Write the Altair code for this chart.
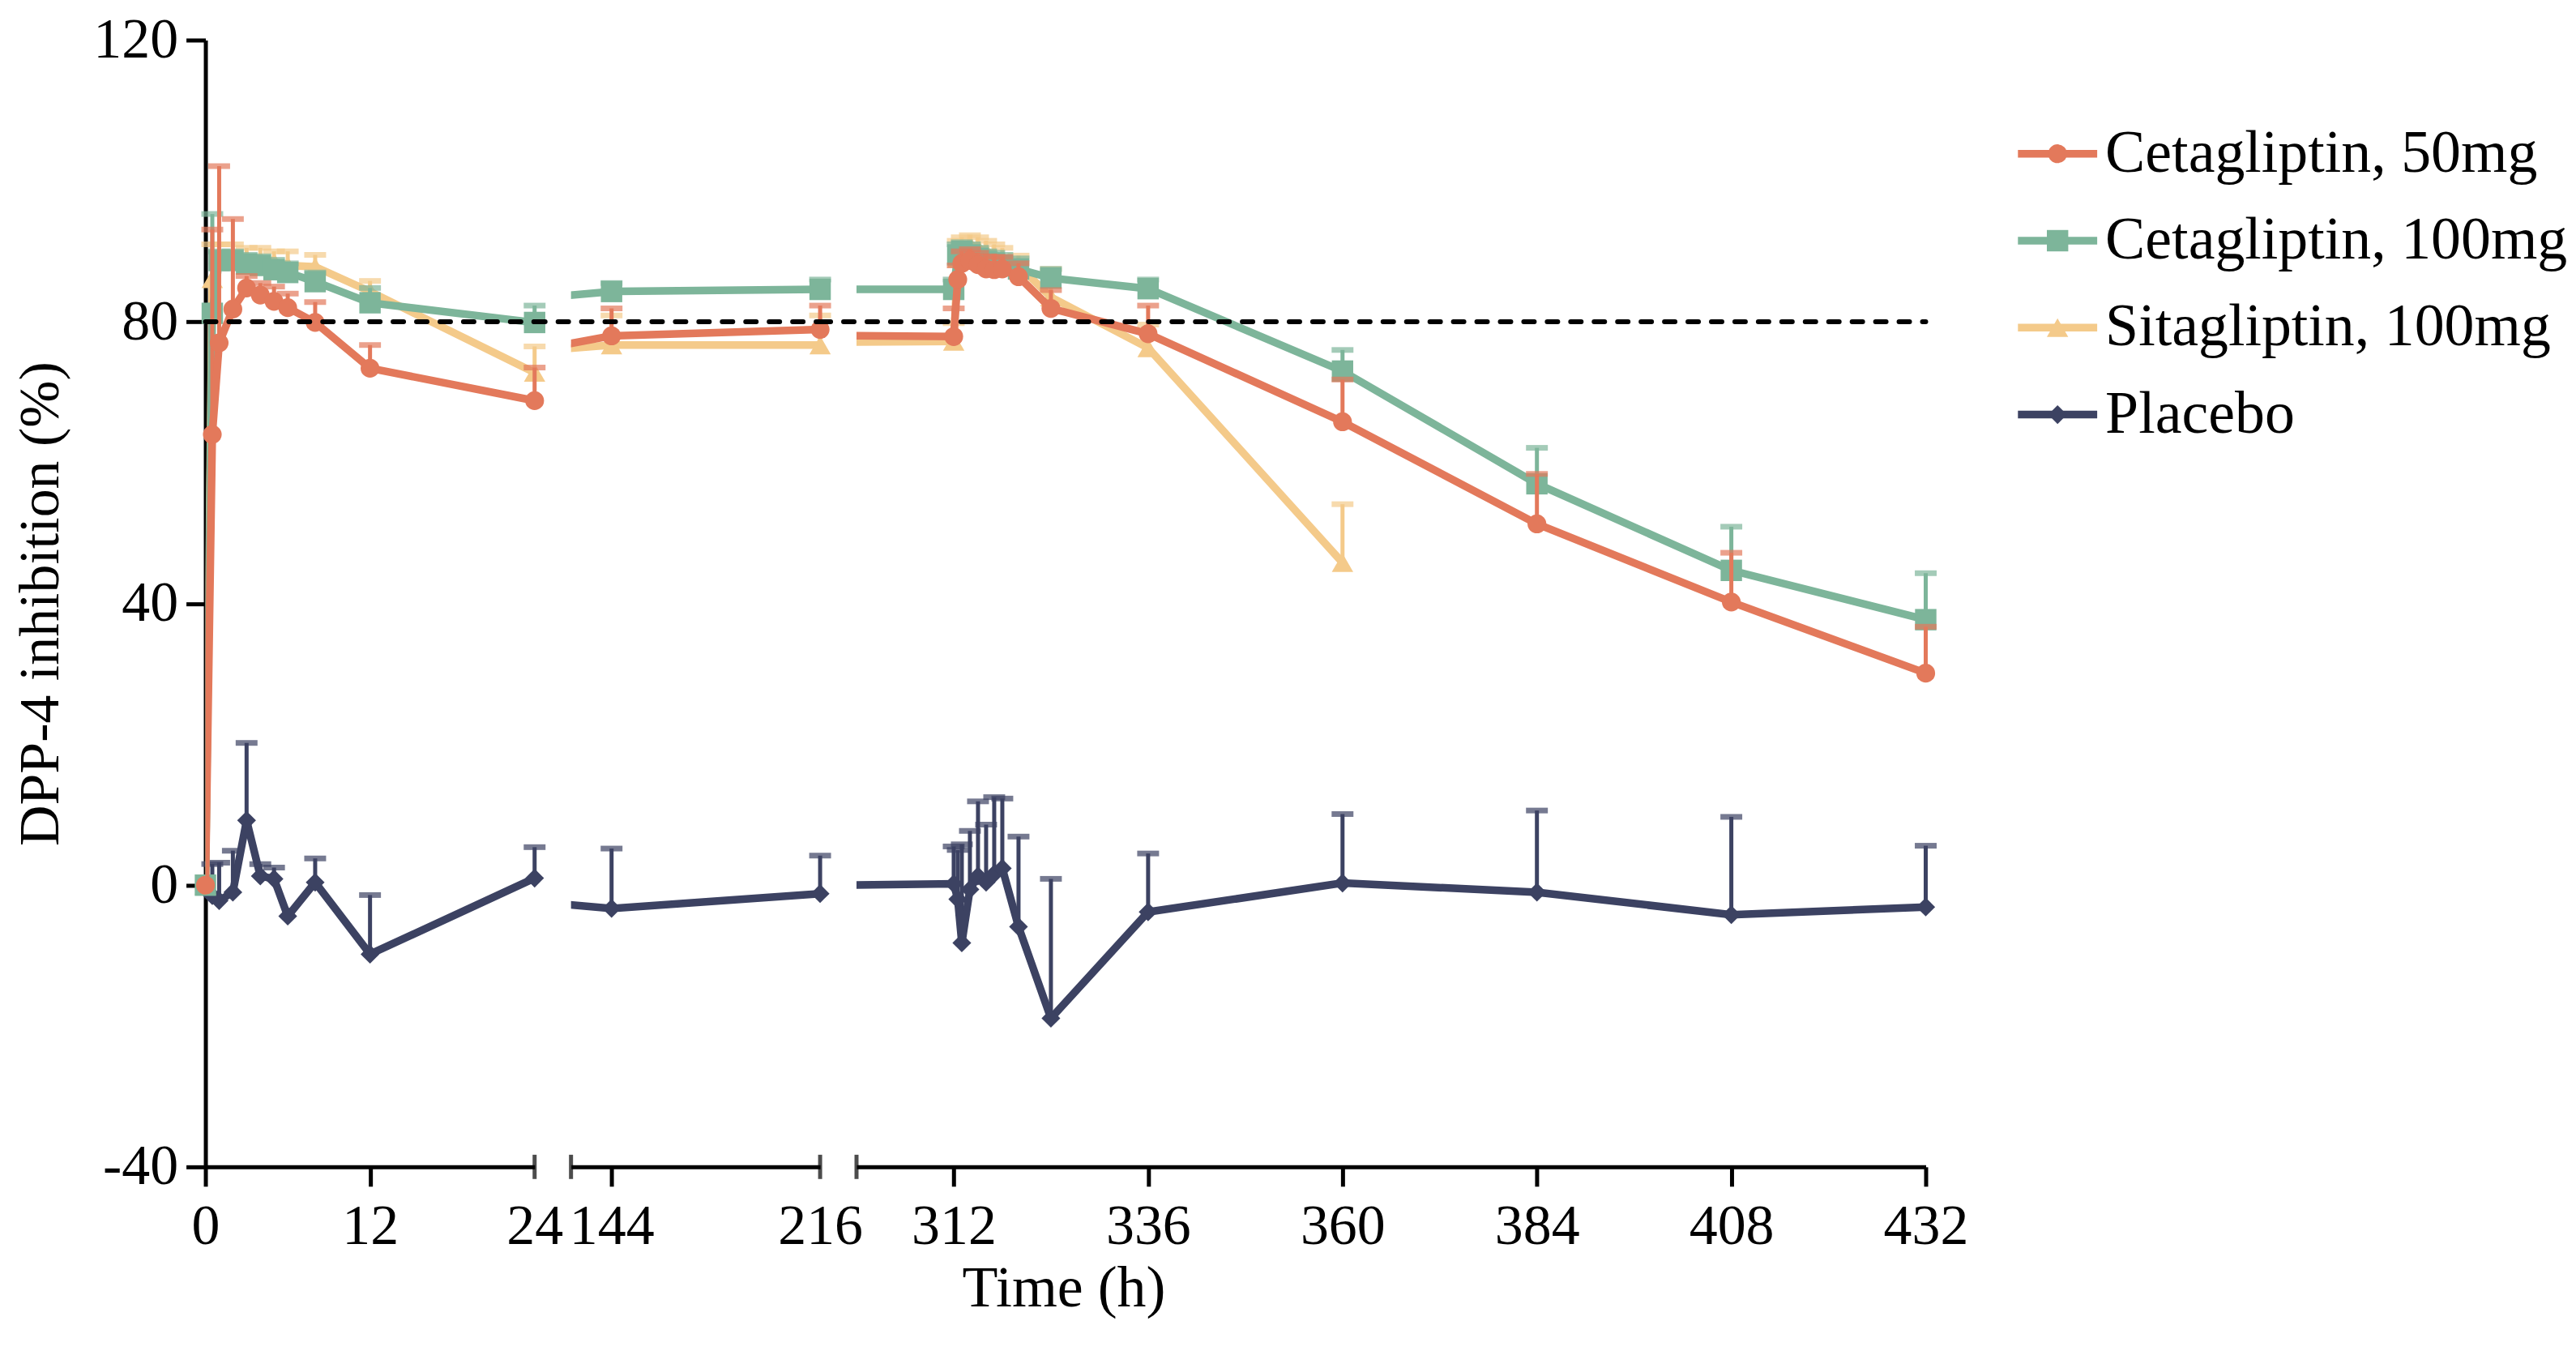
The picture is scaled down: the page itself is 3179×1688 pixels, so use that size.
import altair as alt
import pandas as pd

FONT = "Liberation Serif"

SERIES = ["Cetagliptin, 50mg", "Cetagliptin, 100mg", "Sitagliptin, 100mg", "Placebo"]
COLORS = ["#E3795B", "#7DB59A", "#F4CA8A", "#3C4262"]
SHAPES = ["circle", "square", "triangle-up", "diamond"]
SIZES = [540, 700, 700, 540]
Z_ORDER = ["Placebo", "Sitagliptin, 100mg", "Cetagliptin, 100mg", "Cetagliptin, 50mg"]

TIME = [0, 0.5, 1, 2, 3, 4, 5, 6, 8, 12, 24, 144, 216,
        312, 312.5, 313, 314, 315, 316, 317, 318, 320, 324, 336, 360, 384, 408, 432]

CET50 = [0, 64.0, 77.0, 81.8, 84.8, 83.8, 82.9, 82.0, 79.9, 73.4, 68.8, 78.0, 78.9,
         77.9, 86.0, 88.3, 88.7, 88.1, 87.5, 87.4, 87.5, 86.4, 81.9, 78.3, 65.8, 51.3, 40.2, 30.1]
CET50_UP = [None, 93.1, 102.1, 94.6, 86.5, 85.5, 85.0, 84.0, 82.8, 76.7, 73.5, 81.9, 82.3,
            81.9, 88.0, 90.0, 90.3, 89.8, 89.3, 89.2, 89.2, 88.3, 84.5, 82.3, 71.8, 58.4, 47.2, 36.7]

CET100 = [0, 81.2, 88.7, 88.7, 88.2, 88.0, 87.4, 87.0, 85.7, 82.7, 79.9, 84.3, 84.6,
          84.6, 89.5, 90.0, 89.5, 89.0, 88.5, 88.3, 88.0, 87.5, 86.2, 84.7, 73.0, 57.0, 44.7, 37.7]
CET100_UP = [None, 95.3, 90.0, 90.0, 89.5, 89.3, 88.8, 88.3, 87.0, 84.8, 82.3, 85.5, 86.0,
             86.0, 91.0, 91.3, 91.0, 90.5, 90.0, 89.8, 89.5, 89.0, 87.5, 86.0, 76.0, 62.1, 50.9, 44.3]

SITA = [0, 86.1, 89.5, 89.5, 89.0, 88.8, 88.5, 88.0, 87.8, 84.3, 72.8, 76.7, 76.7,
        77.2, 89.0, 90.5, 91.0, 90.5, 90.0, 89.5, 89.0, 88.0, 83.5, 76.3, 45.8, None, None, None]
SITA_UP = [None, 91.0, 91.0, 91.0, 90.5, 90.5, 90.0, 90.0, 89.5, 85.8, 76.5, 80.9, 80.9,
           79.8, 91.5, 92.0, 92.3, 92.0, 91.5, 91.0, 90.5, 89.4, 87.5, 79.6, 54.1, None, None, None]

PLACEBO = [0, -1.5, -2.2, -1.0, 9.2, 1.3, 0.9, -4.4, 0.4, -9.8, 1.0, -3.3, -1.2,
           0.2, -2.0, -8.2, -0.6, 1.3, 0.4, 1.6, 2.4, -5.9, -18.9, -3.8, 0.3, -1.0, -4.2, -3.1]
PLACEBO_UP = [None, 3.0, 3.2, 4.9, 20.2, 3.0, 2.5, None, 3.8, -1.4, 5.4, 5.2, 4.2,
              5.5, 5.0, 5.8, 7.7, 11.9, 8.6, 12.5, 12.3, 6.9, 0.9, 4.5, 10.1, 10.6, 9.7, 5.6]

VALUES = [CET50, CET100, SITA, PLACEBO]
UPPERS = [CET50_UP, CET100_UP, SITA_UP, PLACEBO_UP]

# broken x axis segments
SEG_LO = [0, 130, 300]
SEG_HI = [24, 216, 432]
SEG_W = [407, 308, 1322]
SEG_TICKS = [[0, 12, 24], [144, 216], [312, 336, 360, 384, 408, 432]]
SEG_HIDE_TICK = [24, 216, None]
SEG_BREAKS = [[24], [130, 216], [300]]
Y_TICKS = [-40, 0, 40, 80, 120]
Y_DOMAIN = [-40, 120]
THRESHOLD = 80
PLOT_H = 1393
GAP = 45

rows = []
for name, vals, ups in zip(SERIES, VALUES, UPPERS):
    for t, v, u in zip(TIME, vals, ups):
        rows.append({"series": name, "t": t, "v": v, "up": u})
df = pd.DataFrame(rows)

ys = alt.Scale(domain=Y_DOMAIN, nice=False, zero=False)


def x_axis(k):
    kw = dict(values=SEG_TICKS[k], labelExpr="'' + datum.value", labelFont=FONT,
              labelFontSize=70, labelColor="black", labelPadding=16, labelFlush=False,
              labelOverlap=False, tickSize=24, tickWidth=5, tickColor="black",
              domainWidth=5, domainColor="black", grid=False, title=None)
    if SEG_HIDE_TICK[k] is not None:
        kw["tickOpacity"] = {"condition": {"test": f"datum.value == {SEG_HIDE_TICK[k]}", "value": 0},
                             "value": 1}
    if k == 1:
        kw.update(title="Time (h)", titleX=609, titleFont=FONT, titleFontSize=72,
                  titleFontWeight="normal", titleColor="black", titlePadding=6)
    return alt.Axis(**kw)


def y_axis(k):
    if k != 0:
        return None
    return alt.Axis(values=Y_TICKS, labelExpr="'' + datum.value", labelFont=FONT,
                    labelFontSize=70, labelColor="black", labelPadding=10, labelFlush=False,
                    tickSize=24, tickWidth=5, tickColor="black", domainWidth=5,
                    domainColor="black", grid=False, title="DPP-4 inhibition (%)",
                    titleFont=FONT, titleFontSize=70, titleFontWeight="normal",
                    titleColor="black", titlePadding=28)


def panel(k):
    lo, hi = SEG_LO[k], SEG_HI[k]
    xs = alt.Scale(domain=[lo, hi], nice=False, zero=False)
    xa = x_axis(k)
    ya = y_axis(k)
    X = alt.X("t:Q", scale=xs, axis=xa)

    def Y(f):
        return alt.Y(f"{f}:Q", scale=ys, axis=ya)

    layers = []
    for name in Z_ORDER:
        i = SERIES.index(name)
        c = COLORS[i]
        sub = df[df.series == name].dropna(subset=["v"])
        inp = sub[(sub.t >= lo) & (sub.t <= hi)]
        eb = inp.dropna(subset=["up"])
        layers.append(alt.Chart(eb).mark_rule(strokeWidth=5, color=c).encode(
            x=X, y=Y("v"), y2="up:Q"))
        layers.append(alt.Chart(eb).mark_tick(orient="horizontal", size=27, thickness=7,
                                              color=c).encode(x=X, y=Y("up")))
        layers.append(alt.Chart(sub).mark_line(strokeWidth=9.5, color=c, clip=True).encode(
            x=X, y=Y("v"), order="t:Q"))
        layers.append(alt.Chart(inp).mark_point(shape=SHAPES[i], filled=True, size=SIZES[i],
                                               color=c, opacity=1).encode(x=X, y=Y("v")))

    ref = alt.Chart(pd.DataFrame({"v": [THRESHOLD]})).mark_rule(
        strokeDash=[13, 16], strokeWidth=6, color="black", strokeCap="round"
    ).encode(y=Y("v"), x=alt.value(0 if k == 0 else -GAP), x2=alt.value(SEG_W[k]))
    layers.append(ref)

    brk = pd.DataFrame({"t": SEG_BREAKS[k], "v": [Y_DOMAIN[0]] * len(SEG_BREAKS[k])})
    layers.append(alt.Chart(brk).mark_tick(orient="vertical", size=30, thickness=5,
                                           color="black").encode(x=X, y=Y("v")))

    return alt.layer(*layers).properties(width=SEG_W[k], height=PLOT_H)


# custom legend panel (rows placed through a linear scale, first row near the top)
leg = pd.DataFrame({"name": SERIES, "row": list(range(len(SERIES)))})
LY = alt.Y("row:Q", scale=alt.Scale(domain=[-1.307, 11.651], reverse=True, nice=False, zero=False),
           axis=None)
LC = alt.Color("name:N", scale=alt.Scale(domain=SERIES, range=COLORS), legend=None)
leg_layers = [
    alt.Chart(leg).mark_rule(strokeWidth=9.5).encode(y=LY, x=alt.value(69), x2=alt.value(167), color=LC)
]
for i, name in enumerate(SERIES):
    leg_layers.append(
        alt.Chart(leg).transform_filter(alt.datum.name == name).mark_point(
            shape=SHAPES[i], filled=True, size=SIZES[i], opacity=1, color=COLORS[i]
        ).encode(y=LY, x=alt.value(118))
    )
leg_layers.append(
    alt.Chart(leg).mark_text(align="left", baseline="middle", font=FONT, fontSize=74,
                             color="black").encode(y=LY, x=alt.value(177), text="name:N")
)
legend_panel = alt.layer(*leg_layers).properties(width=560, height=PLOT_H)

chart = alt.hconcat(panel(0), panel(1), panel(2), legend_panel, spacing=GAP,
                    bounds="flush").resolve_scale(
    x="independent", y="independent", color="independent"
).properties(
    padding={"left": 8, "top": 5, "right": 2, "bottom": 5},
    background="white",
).configure_view(stroke=None)

chart.save("out.html", embed_options={"renderer": "svg", "actions": False})
